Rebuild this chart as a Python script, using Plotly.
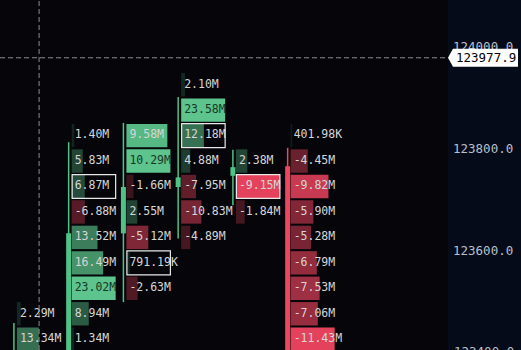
import plotly.graph_objects as go

# ---------------- data ----------------
price_levels = [123925, 123875, 123825, 123775, 123725, 123675, 123625,
                123575, 123525, 123475, 123425, 123375]

# delta volume (millions) per price level for each candle (None = no trades)
delta_c0 = [None, None, None, None, None, None, None, None, None, 2.29, 13.34, 26.70]
delta_c1 = [None, None, 1.40, 5.83, 6.87, -6.88, 13.52, 16.49, 23.02, 8.94, 1.34, None]
delta_c2 = [None, None, 9.58, 10.29, -1.66, 2.55, -5.12, 0.79119, -2.63, None, None, None]
delta_c3 = [2.10, 23.58, 12.18, 4.88, -7.95, -10.83, -4.89, None, None, None, None, None]
delta_c4 = [None, None, None, 2.38, -9.15, -1.84, None, None, None, None, None, None]
delta_c5 = [None, None, 0.40198, -4.45, -9.82, -5.90, -5.28, -6.79, -7.53, -7.06, -11.43, None]
deltas = [delta_c0, delta_c1, delta_c2, delta_c3, delta_c4, delta_c5]

candle_open = [123330, 123380, 123633, 123724, 123746, 123765]
candle_high = [123457, 123812, 123850, 123901, 123797, 123801]
candle_low = [123300, 123340, 123498, 123623, 123688, 123360]
candle_close = [123390, 123633, 123724, 123743, 123763, 123380]

boxed_cells = [(1, 123725), (2, 123575), (3, 123825), (4, 123725)]

y_ticks = [123400, 123600, 123800, 124000]
y_view = [123403.8, 124091.4]
cursor_col = 0.46
cursor_price = 123977.9

# ---------------- style ----------------
PX = 54.75            # pixels per candle slot
BIN = 50
GREEN = (92, 196, 140)
RED = (228, 66, 92)
CANDLE_GREEN = "#4fc286"
CANDLE_RED = "#ef465f"
FONT = "DejaVu Sans Mono"
TICK_COLOR = "#b9c0cc"


def fmt(v):
    if abs(v) < 1:
        return f"{v * 1000:.2f}K"
    return f"{v:.2f}M"


fig = go.Figure()

# footprint bars
bx, by, bbase, bcol = [], [], [], []
tx, ty, tt, tc = [], [], [], []
for i, col in enumerate(deltas):
    vals = [abs(v) for v in col if v is not None]
    cmax = max(vals)
    for lvl, v in zip(price_levels, col):
        if v is None:
            continue
        frac = abs(v) / cmax
        rgb = GREEN if v >= 0 else RED
        a = 0.1 + 0.9 * frac
        bx.append(frac * 44 / PX)
        by.append(lvl)
        bbase.append(i + 3 / PX)
        bcol.append(f"rgba({rgb[0]},{rgb[1]},{rgb[2]},{a:.3f})")
        tx.append(i + 6 / PX)
        ty.append(lvl)
        tt.append(fmt(v))
        tc.append("#17382a" if (v > 0 and frac > 0.97) else "#d6d6d6")

fig.add_trace(go.Bar(x=bx, y=by, base=bbase, orientation="h", width=BIN - 4,
                     marker=dict(color=bcol, line=dict(width=0)),
                     hoverinfo="skip"))

# candles
for up, color in [(True, CANDLE_GREEN), (False, CANDLE_RED)]:
    wx, wy, bx2, by2 = [], [], [], []
    for i in range(len(candle_open)):
        if (candle_close[i] >= candle_open[i]) != up:
            continue
        wx += [i, i, None]
        wy += [candle_low[i], candle_high[i], None]
        bx2 += [i, i, None]
        by2 += [candle_open[i], candle_close[i], None]
    fig.add_trace(go.Scatter(x=wx, y=wy, mode="lines",
                             line=dict(color=color, width=1.5), hoverinfo="skip"))
    fig.add_trace(go.Scatter(x=bx2, y=by2, mode="lines",
                             line=dict(color=color, width=5), hoverinfo="skip"))

# labels
fig.add_trace(go.Scatter(x=tx, y=ty, text=tt, mode="text", textposition="middle right",
                         textfont=dict(family=FONT, size=11.5, color=tc),
                         hoverinfo="skip"))

shapes = []
for i, lvl in boxed_cells:
    shapes.append(dict(type="rect", xref="x", yref="y",
                       x0=i + 3.5 / PX, x1=i + 47 / PX,
                       y0=lvl - 23.5, y1=lvl + 23.5,
                       line=dict(color="#e8e8e8", width=1.2), layer="above"))

# crosshair
shapes.append(dict(type="line", xref="x", yref="paper", x0=cursor_col, x1=cursor_col,
                   y0=0, y1=1, line=dict(color="#8e8e8e", width=1, dash="5px,3px"),
                   layer="above"))
shapes.append(dict(type="line", xref="paper", yref="y", x0=0, x1=1,
                   y0=cursor_price, y1=cursor_price,
                   line=dict(color="#8e8e8e", width=1, dash="5px,3px"), layer="above"))
shapes.append(dict(type="path", xref="paper", xsizemode="pixel", xanchor=1,
                   yref="y", ysizemode="pixel", yanchor=cursor_price,
                   path="M0,0 L5,9 L70,9 L70,-9 L5,-9 Z",
                   fillcolor="#ffffff", line=dict(width=0), layer="above"))

# ticks inside the view are real axis ticks; ones just past the edge are drawn as
# paper annotations so that their visible part is kept (as in the reference)
in_view = [t for t in y_ticks if y_view[0] <= t <= y_view[1]]
edge = [t for t in y_ticks if not (y_view[0] <= t <= y_view[1])]
annotations = [dict(xref="paper", x=1, xanchor="left", xshift=6,
                    yref="y", y=cursor_price, text=f"{cursor_price:.1f}",
                    showarrow=False,
                    font=dict(family=FONT, size=12.5, color="#000000"))]
for t in edge:
    frac = (t - y_view[0]) / (y_view[1] - y_view[0])
    annotations.append(dict(xref="paper", x=1, xanchor="left", xshift=4,
                            yref="paper", y=frac, yanchor="middle",
                            text=f"{t:.1f}", showarrow=False,
                            font=dict(family=FONT, size=12.5, color=TICK_COLOR)))

fig.update_layout(
    width=521, height=350,
    margin=dict(l=0, r=73, t=0, b=0),
    paper_bgcolor="#060b19",
    plot_bgcolor="#06060a",
    showlegend=False,
    barmode="overlay",
    shapes=shapes,
    annotations=annotations,
    xaxis=dict(range=[-13.9 / PX, -13.9 / PX + 448 / PX], visible=False, fixedrange=True),
    yaxis=dict(side="right", range=y_view,
               tickvals=in_view, ticktext=[f"{v:.1f}" for v in in_view],
               tickfont=dict(family=FONT, size=12.5, color=TICK_COLOR),
               showgrid=False, zeroline=False, showline=False, ticks="",
               ticklabelstandoff=4, fixedrange=True),
)

fig.write_html("out.html")
